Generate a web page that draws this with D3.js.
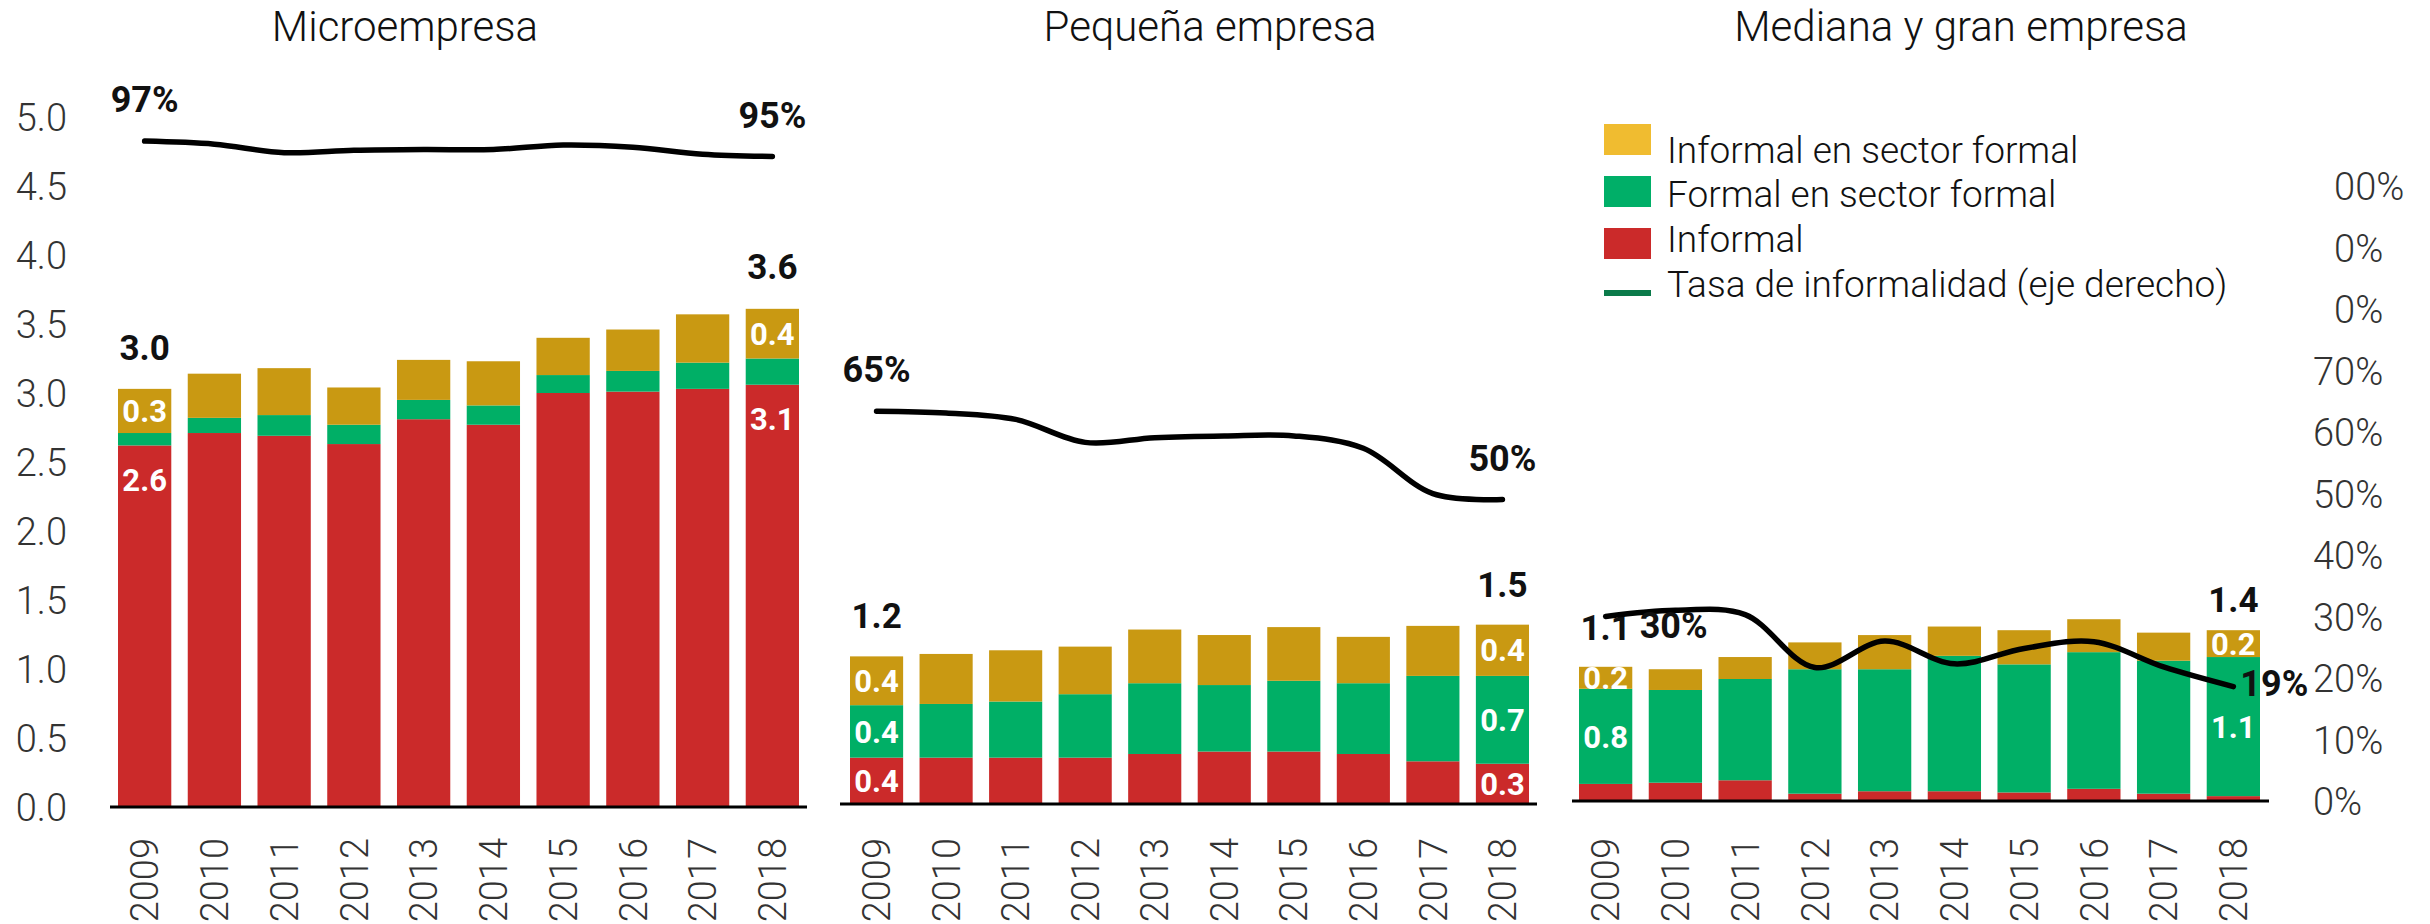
<!DOCTYPE html>
<html>
<head>
<meta charset="utf-8">
<script src="https://cdn.jsdelivr.net/npm/d3@7"></script>
<style>
  body { margin: 0; background: #fff; }
  svg text { font-family: Roboto, 'Noto Sans', sans-serif; }
</style>
</head>
<body>
<svg id="chart" width="2430" height="924"></svg>
<script>
// Data (millions of workers)
const years = [2009, 2010, 2011, 2012, 2013, 2014, 2015, 2016, 2017, 2018];

const microInformal = [2.62, 2.71, 2.69, 2.63, 2.81, 2.77, 3.00, 3.01, 3.03, 3.06];
const microFormal   = [0.09, 0.11, 0.15, 0.14, 0.14, 0.14, 0.13, 0.15, 0.19, 0.19];
const microInfSF    = [0.32, 0.32, 0.34, 0.27, 0.29, 0.32, 0.27, 0.30, 0.35, 0.36];
const microRate     = [97.0, 96.6, 95.5, 95.8, 95.9, 95.9, 96.5, 96.2, 95.3, 95.0];

const pequenaInformal = [0.38, 0.38, 0.38, 0.38, 0.41, 0.43, 0.43, 0.41, 0.35, 0.33];
const pequenaFormal   = [0.43, 0.44, 0.46, 0.52, 0.58, 0.545, 0.58, 0.58, 0.70, 0.72];
const pequenaInfSF    = [0.40, 0.41, 0.42, 0.39, 0.44, 0.41, 0.44, 0.38, 0.41, 0.42];
const pequenaRate     = [65.0, 64.7, 63.6, 59.7, 60.5, 60.8, 60.8, 58.7, 51.0, 50.0];

const medianaInformal = [0.14, 0.15, 0.17, 0.06, 0.08, 0.08, 0.07, 0.10, 0.06, 0.04];
const medianaFormal   = [0.78, 0.76, 0.83, 1.02, 1.00, 1.11, 1.05, 1.12, 1.09, 1.14];
const medianaInfSF    = [0.18, 0.17, 0.18, 0.22, 0.28, 0.24, 0.28, 0.27, 0.23, 0.22];
const medianaRate     = [30.0, 31.0, 30.3, 21.7, 26.0, 22.3, 24.8, 25.9, 21.8, 18.6];

const leftTicks  = [0, 0.5, 1, 1.5, 2, 2.5, 3, 3.5, 4, 4.5, 5];
const rightTicks = [0, 10, 20, 30, 40, 50, 60, 70, 80, 90, 100];

const keys = ['informal', 'formal', 'infSF'];
const legendLabels = ['Informal en sector formal', 'Formal en sector formal', 'Informal', 'Tasa de informalidad (eje derecho)'];

const barColor = { informal: '#cb2a2a', formal: '#00af66', infSF: '#c99912' };
const legendColor = ['#f0bc30', '#00af68', '#cb2a2a', '#0b7a4a'];

// layout of the three panels (pixels)
const panels = [
  { title: 'Microempresa', informal: microInformal, formal: microFormal, infSF: microInfSF, rate: microRate,
    band: [118, 799], base: 807, unit: 138, rateRange: [888, 118], axis: [110, 807], titleX: 405,
    labelKeys: ['informal', 'infSF'], totalOff: [29, 30], leftAxis: true },
  { title: 'Pequeña empresa', informal: pequenaInformal, formal: pequenaFormal, infSF: pequenaInfSF, rate: pequenaRate,
    band: [850, 1529], base: 804, unit: 122, rateRange: [794, 205], axis: [840, 1537], titleX: 1210,
    labelKeys: ['informal', 'formal', 'infSF'], totalOff: [28, 28] },
  { title: 'Mediana y gran empresa', informal: medianaInformal, formal: medianaFormal, infSF: medianaInfSF, rate: medianaRate,
    band: [1579, 2260], base: 801, unit: 122, rateRange: [801, 186], axis: [1572, 2269], titleX: 1961,
    labelKeys: ['formal', 'infSF'], totalOff: [27, 18], rightAxis: true, sideRateLabels: true }
];

const svg = d3.select('#chart');
const fmt1 = d3.format('.1f');

panels.forEach(p => {
  const g = svg.append('g');

  const x = d3.scaleBand().domain(years).range(p.band).paddingInner(0.236).paddingOuter(0);
  const y = d3.scaleLinear().domain([0, 1]).range([p.base, p.base - p.unit]);
  const r = d3.scaleLinear().domain([0, 100]).range(p.rateRange);

  const rows = years.map((yr, i) => ({ year: yr, informal: p.informal[i], formal: p.formal[i], infSF: p.infSF[i] }));
  const series = d3.stack().keys(keys)(rows);

  // stacked bars
  series.forEach(s => {
    g.selectAll(null)
      .data(s)
      .enter()
      .append('rect')
      .attr('x', d => x(d.data.year))
      .attr('y', d => y(d[1]))
      .attr('width', x.bandwidth())
      .attr('height', d => y(d[0]) - y(d[1]))
      .attr('fill', barColor[s.key]);
  });

  // baseline
  g.append('line')
    .attr('x1', p.axis[0]).attr('x2', p.axis[1])
    .attr('y1', p.base).attr('y2', p.base)
    .attr('stroke', '#000').attr('stroke-width', 3);

  // year labels
  const xAxis = g.append('g')
    .attr('transform', 'translate(0,838)')
    .call(d3.axisBottom(x).tickSize(0).tickFormat(d3.format('d')));
  xAxis.select('.domain').remove();
  xAxis.selectAll('text')
    .attr('x', 0).attr('y', 0).attr('dy', '0.36em')
    .attr('transform', 'rotate(-90)')
    .attr('text-anchor', 'end')
    .attr('font-size', 38).attr('font-weight', 300).attr('fill', '#333');

  // segment labels on first and last bar
  const ends = [0, years.length - 1];
  series.filter(s => p.labelKeys.includes(s.key)).forEach(s => {
    ends.forEach(i => {
      const d = s[i];
      const top = y(d[1]), bottom = y(d[0]);
      const cy = (bottom - top) > 150 ? top + 34 : (top + bottom) / 2;
      g.append('text')
        .attr('x', x(d.data.year) + x.bandwidth() / 2)
        .attr('y', cy)
        .attr('dy', '0.36em')
        .attr('text-anchor', 'middle')
        .attr('font-size', 31).attr('font-weight', 700).attr('fill', '#fff')
        .text(fmt1(d[1] - d[0]));
    });
  });

  // totals
  const last = series[series.length - 1];
  ends.forEach((i, k) => {
    const d = last[i];
    g.append('text')
      .attr('x', x(d.data.year) + x.bandwidth() / 2)
      .attr('y', y(d[1]) - p.totalOff[k])
      .attr('text-anchor', 'middle')
      .attr('font-size', 35).attr('font-weight', 700).attr('fill', '#111')
      .text(fmt1(d[1]));
  });

  // informality rate line
  const line = d3.line()
    .x((d, i) => x(years[i]) + x.bandwidth() / 2)
    .y(d => r(d))
    .curve(d3.curveCatmullRom.alpha(0.5));

  g.append('path')
    .datum(p.rate)
    .attr('d', line)
    .attr('fill', 'none')
    .attr('stroke', '#000')
    .attr('stroke-width', 5.5)
    .attr('stroke-linecap', 'round');

  ends.forEach((i, k) => {
    const cx = x(years[i]) + x.bandwidth() / 2;
    const t = g.append('text')
      .attr('font-size', 36).attr('font-weight', 700).attr('fill', '#111')
      .text(Math.round(p.rate[i]) + '%');
    if (p.sideRateLabels) {
      const off = k === 0 ? [34, 21] : [7, 9];
      t.attr('x', cx + off[0]).attr('y', r(p.rate[i]) + off[1]).attr('text-anchor', 'start');
    } else {
      t.attr('x', cx).attr('y', r(p.rate[i]) - 29).attr('text-anchor', 'middle');
    }
  });

  // title
  g.append('text')
    .attr('x', p.titleX).attr('y', 41)
    .attr('text-anchor', 'middle')
    .attr('font-size', 42).attr('font-weight', 300).attr('fill', '#111')
    .text(p.title);

  if (p.leftAxis) {
    const yl = d3.scaleLinear().domain([0, 5]).range([p.base, p.base - 5 * p.unit]);
    const ax = g.append('g')
      .attr('transform', 'translate(67,0)')
      .call(d3.axisLeft(yl).tickValues(leftTicks).tickSize(0).tickFormat(fmt1));
    ax.select('.domain').remove();
    ax.selectAll('text')
      .attr('x', 0).attr('dy', '0.36em')
      .attr('text-anchor', 'end')
      .attr('font-size', 38).attr('font-weight', 300).attr('fill', '#333');
  }

  if (p.rightAxis) {
    const ax = g.append('g')
      .attr('transform', 'translate(2313,0)')
      .call(d3.axisRight(r).tickValues(rightTicks).tickSize(0).tickFormat(d => d + '%'));
    ax.select('.domain').remove();
    ax.selectAll('text')
      .attr('x', 0).attr('dy', '0.36em')
      .attr('text-anchor', 'start')
      .attr('font-size', 38).attr('font-weight', 300).attr('fill', '#333');
    // the top labels are cut on the left in the original
    g.append('rect')
      .attr('x', 2290).attr('y', 160).attr('width', 43).attr('height', 175)
      .attr('fill', '#fff');
  }
});

// legend
const legend = svg.append('g');
const boxY = [124, 176, 228];
const textY = [163, 207, 252, 297];
legendLabels.forEach((label, i) => {
  if (i < 3) {
    legend.append('rect')
      .attr('x', 1604).attr('y', boxY[i])
      .attr('width', 47).attr('height', 31)
      .attr('fill', legendColor[i]);
  } else {
    legend.append('rect')
      .attr('x', 1604).attr('y', 290)
      .attr('width', 47).attr('height', 6)
      .attr('fill', legendColor[i]);
  }
  legend.append('text')
    .attr('x', 1667).attr('y', textY[i])
    .attr('font-size', 37).attr('font-weight', 300).attr('fill', '#111')
    .text(label);
});
</script>
</body>
</html>
